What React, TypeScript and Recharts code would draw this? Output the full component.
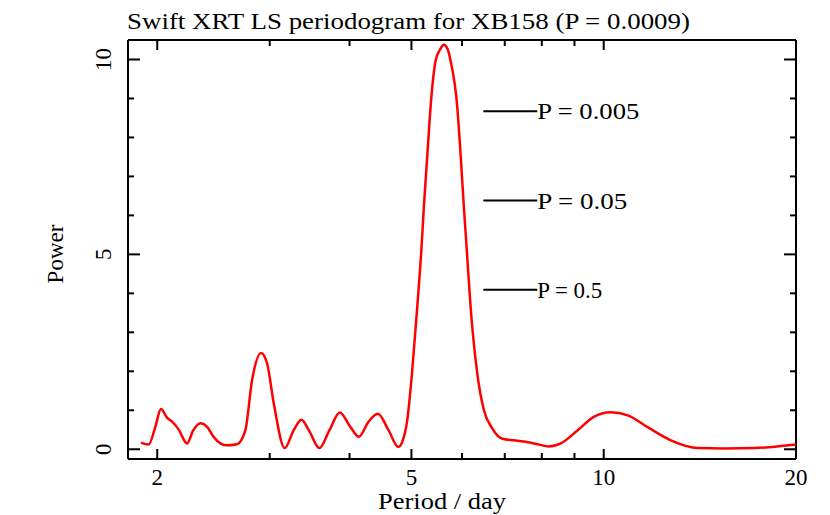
import { LineChart, Line, XAxis, YAxis, ReferenceLine } from "recharts";

// periodogram (period in days, LS power)
const periods = [
  1.886, 1.939, 1.986, 2.027, 2.072, 2.112, 2.16, 2.227, 2.278, 2.336, 2.396, 2.448,
  2.511, 2.557, 2.667, 2.748, 2.815, 2.908, 2.972, 3.044, 3.167, 3.271, 3.364, 3.454,
  3.589, 3.721, 3.862, 4.013, 4.136, 4.282, 4.43, 4.604, 4.768, 4.837, 4.925, 5.01,
  5.106, 5.186, 5.229, 5.293, 5.357, 5.455, 5.541, 5.621, 5.702, 5.758, 5.899, 5.973,
  6.041, 6.1, 6.189, 6.34, 6.494, 6.694, 6.94, 7.228, 7.494, 7.881, 8.201, 8.563,
  9.106, 9.648, 10.24, 10.907, 11.73, 12.74, 14.04, 15.43, 17.19, 20,
];
const powers = [
  0.17, 0.12, 0.57, 1.03, 0.81, 0.7, 0.51, 0.15, 0.49, 0.67, 0.57, 0.33,
  0.15, 0.1, 0.13, 0.49, 1.77, 2.47, 2.2, 1.18, 0.03, 0.49, 0.76, 0.49,
  0.03, 0.49, 0.94, 0.57, 0.32, 0.7, 0.91, 0.49, 0.06, 0.19, 0.74, 1.94,
  3.65, 5.19, 6.21, 7.5, 8.78, 9.97, 10.25, 10.38, 10.25, 9.97, 8.78, 7.5,
  6.21, 5.19, 3.65, 1.94, 1.0, 0.53, 0.27, 0.23, 0.2, 0.13, 0.07, 0.15,
  0.49, 0.83, 0.95, 0.87, 0.56, 0.23, 0.03, 0.02, 0.03, 0.12,
];

// false-alarm levels
const sigLevels = [8.67, 6.38, 4.09];
const sigLabels = ["P = 0.005", "P = 0.05", "P = 0.5"];
const sigLabelWidths = [102, 90, 65];
const sigStart = 6.48;
const sigEnd = 7.87;

const xTicks = [2, 3, 4, 5, 6, 7, 8, 9, 10, 20];
const xMajor = [2, 5, 10, 20];
const yTicks = [0, 1, 2, 3, 4, 5, 6, 7, 8, 9, 10];
const yMajor = [0, 5, 10];

const data = periods.map((p, i) => ({ period: p, power: powers[i] }));

const FONT = "'Liberation Serif', 'Times New Roman', serif";
const W = 830;
const H = 515;
const box = { left: 128, right: 796, top: 40, bottom: 459 };

function XTick({ x, payload }: any) {
  const major = xMajor.includes(payload.value);
  const len = major ? 10 : 6;
  return (
    <g>
      <line x1={x} x2={x} y1={box.bottom} y2={box.bottom - len} stroke="#000" strokeWidth={2} />
      <line x1={x} x2={x} y1={box.top} y2={box.top + len} stroke="#000" strokeWidth={2} />
      {major && (
        <text x={x} y={485} textAnchor="middle" fontFamily={FONT} fontSize={23} fill="#000">
          {payload.value}
        </text>
      )}
    </g>
  );
}

function YTick({ y, payload }: any) {
  const major = yMajor.includes(payload.value);
  const len = major ? 12 : 6;
  return (
    <g>
      <line x1={box.left} x2={box.left + len} y1={y} y2={y} stroke="#000" strokeWidth={2} />
      <line x1={box.right} x2={box.right - len} y1={y} y2={y} stroke="#000" strokeWidth={2} />
      {major && (
        <text
          x={111}
          y={y}
          transform={`rotate(-90 111 ${y})`}
          textAnchor="middle"
          fontFamily={FONT}
          fontSize={23}
          fill="#000"
        >
          {payload.value}
        </text>
      )}
    </g>
  );
}

function sigLabel(text: string, width: number) {
  return (props: any) => {
    const vb = props.viewBox || {};
    return (
      <text
        x={vb.x + vb.width}
        y={vb.y + 8}
        fontFamily={FONT}
        fontSize={23}
        fill="#000"
        textLength={width}
        lengthAdjust="spacingAndGlyphs"
      >
        {text}
      </text>
    );
  };
}

export default function App() {
  return (
    <div style={{ position: "absolute", left: 0, top: 0, width: W, height: H, background: "#fff" }}>
      <LineChart
        width={W}
        height={H}
        data={data}
        margin={{ top: box.top, right: W - box.right, bottom: 0, left: 0 }}
      >
        <XAxis
          dataKey="period"
          type="number"
          scale="log"
          domain={[1.8, 20]}
          ticks={xTicks}
          allowDataOverflow
          height={H - box.bottom}
          tickLine={false}
          axisLine={{ stroke: "#000", strokeWidth: 2 }}
          tick={(p: any) => <XTick {...p} />}
        />
        <YAxis
          type="number"
          domain={[-0.25, 10.5]}
          ticks={yTicks}
          allowDataOverflow
          width={box.left}
          tickLine={false}
          axisLine={{ stroke: "#000", strokeWidth: 2 }}
          tick={(p: any) => <YTick {...p} />}
        />
        <ReferenceLine y={10.5} stroke="#000" strokeWidth={2} />
        <ReferenceLine x={20} stroke="#000" strokeWidth={2} />
        {sigLevels.map((lvl, i) => (
          <ReferenceLine
            key={sigLabels[i]}
            segment={[
              { x: sigStart, y: lvl },
              { x: sigEnd, y: lvl },
            ]}
            stroke="#000"
            strokeWidth={2}
            label={sigLabel(sigLabels[i], sigLabelWidths[i])}
          />
        ))}
        <Line
          type="monotone"
          dataKey="power"
          stroke="#ff0000"
          strokeWidth={2.5}
          dot={false}
          isAnimationActive={false}
        />
      </LineChart>
      <svg
        width={W}
        height={H}
        style={{ position: "absolute", left: 0, top: 0, pointerEvents: "none" }}
      >
        <text
          x={127}
          y={29}
          fontFamily={FONT}
          fontSize={23}
          fill="#000"
          textLength={563}
          lengthAdjust="spacingAndGlyphs"
        >
          Swift XRT LS periodogram for XB158 (P = 0.0009)
        </text>
        <text
          x={378}
          y={509}
          fontFamily={FONT}
          fontSize={23}
          fill="#000"
          textLength={128}
          lengthAdjust="spacingAndGlyphs"
        >
          Period / day
        </text>
        <text
          x={63}
          y={254}
          transform="rotate(-90 63 254)"
          textAnchor="middle"
          fontFamily={FONT}
          fontSize={23}
          fill="#000"
        >
          Power
        </text>
      </svg>
    </div>
  );
}
